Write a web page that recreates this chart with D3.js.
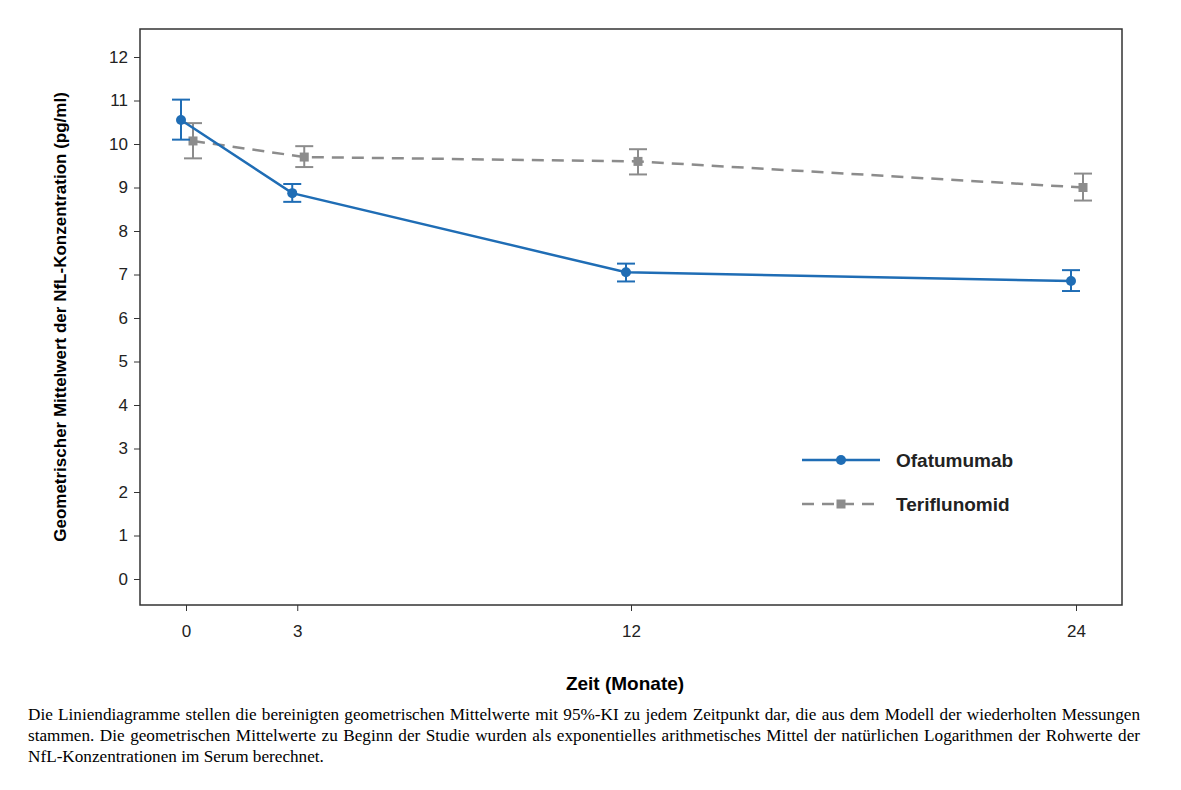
<!DOCTYPE html>
<html><head><meta charset="utf-8">
<script src="https://cdn.jsdelivr.net/npm/d3@7"></script>
<style>
body{margin:0;background:#fff;}
.cap{position:absolute;left:28px;top:704px;width:1112px;font-family:"Liberation Serif","Times New Roman",serif;font-size:17.2px;line-height:21px;text-align:justify;color:#000;}
</style></head><body>
<svg id="c" width="1181" height="700"></svg>
<div class="cap">Die Liniendiagramme stellen die bereinigten geometrischen Mittelwerte mit 95%-KI zu jedem Zeitpunkt dar, die aus dem Modell der wiederholten Messungen stammen. Die geometrischen Mittelwerte zu Beginn der Studie wurden als exponentielles arithmetisches Mittel der natürlichen Logarithmen der Rohwerte der NfL-Konzentrationen im Serum berechnet.</div>
<script>
var months = [0, 3, 12, 24];
var ofaMean = [10.55, 8.87, 7.05, 6.85];
var ofaLow = [10.1, 8.67, 6.84, 6.62];
var ofaHigh = [11.02, 9.08, 7.25, 7.1];
var terMean = [10.07, 9.7, 9.6, 9.0];
var terLow = [9.67, 9.47, 9.3, 8.7];
var terHigh = [10.48, 9.95, 9.88, 9.32];
var yTicks = d3.range(0, 13);

var svg = d3.select("#c");
var L = 140, R = 1122, T = 29, B = 605;
var x = d3.scaleLinear().domain([0, 24]).range([186, 1076]);
var y = d3.scaleLinear().domain([0, 12]).range([579, 57]);
var font = "Liberation Sans, Arial, sans-serif";

svg.append("rect").attr("x", L).attr("y", T).attr("width", R - L).attr("height", B - T)
  .attr("fill", "none").attr("stroke", "#333").attr("stroke-width", 1.5);

var ya = svg.append("g").attr("transform", "translate(" + L + ",0)")
  .call(d3.axisLeft(y).tickValues(yTicks).tickSize(6).tickPadding(6));
var xa = svg.append("g").attr("transform", "translate(0," + B + ")")
  .call(d3.axisBottom(x).tickValues(months).tickSize(6).tickPadding(14));
[ya, xa].forEach(function (a) {
  a.select(".domain").remove();
  a.selectAll("line").attr("stroke", "#333");
  a.selectAll("text").attr("font-family", font).attr("font-size", 17).attr("fill", "#222");
});

svg.append("text").attr("x", 625).attr("y", 690).attr("text-anchor", "middle")
  .attr("font-family", font).attr("font-size", 19).attr("font-weight", "bold").text("Zeit (Monate)");
svg.append("text").attr("transform", "translate(66,317) rotate(-90)").attr("text-anchor", "middle")
  .attr("font-family", font).attr("font-size", 17).attr("font-weight", "bold")
  .text("Geometrischer Mittelwert der NfL-Konzentration (pg/ml)");

function series(mean, lo, hi, dx, color, dash, shape) {
  var pts = months.map(function (m, i) { return { x: x(m) + dx, m: mean[i], l: lo[i], h: hi[i] }; });
  var g = svg.append("g");
  g.append("path").datum(pts).attr("fill", "none").attr("stroke", color).attr("stroke-width", 2.5)
    .attr("stroke-dasharray", dash)
    .attr("d", d3.line().x(function (d) { return d.x; }).y(function (d) { return y(d.m); }));
  pts.forEach(function (d) {
    g.append("line").attr("x1", d.x).attr("x2", d.x).attr("y1", y(d.l)).attr("y2", y(d.h)).attr("stroke", color).attr("stroke-width", 2);
    [d.l, d.h].forEach(function (v) {
      g.append("line").attr("x1", d.x - 9).attr("x2", d.x + 9).attr("y1", y(v)).attr("y2", y(v)).attr("stroke", color).attr("stroke-width", 2);
    });
    if (shape == "c") g.append("circle").attr("cx", d.x).attr("cy", y(d.m)).attr("r", 5).attr("fill", color);
    else g.append("rect").attr("x", d.x - 4.5).attr("y", y(d.m) - 4.5).attr("width", 9).attr("height", 9).attr("fill", color);
  });
}
series(terMean, terLow, terHigh, 7, "#8c8c8c", "12,8", "s");
series(ofaMean, ofaLow, ofaHigh, -5, "#1f6db5", null, "c");

var leg = [["Ofatumumab", "#1f6db5", null, "c", 460], ["Teriflunomid", "#8c8c8c", "12,8", "s", 504]];
leg.forEach(function (l) {
  svg.append("line").attr("x1", 802).attr("x2", 880).attr("y1", l[4]).attr("y2", l[4])
    .attr("stroke", l[1]).attr("stroke-width", 2.5).attr("stroke-dasharray", l[2]);
  if (l[3] == "c") svg.append("circle").attr("cx", 841).attr("cy", l[4]).attr("r", 5).attr("fill", l[1]);
  else svg.append("rect").attr("x", 836.5).attr("y", l[4] - 4.5).attr("width", 9).attr("height", 9).attr("fill", l[1]);
  svg.append("text").attr("x", 896).attr("y", l[4] + 7).attr("font-family", font).attr("font-size", 19)
    .attr("font-weight", "bold").attr("fill", "#222").text(l[0]);
});
</script>
</body></html>
